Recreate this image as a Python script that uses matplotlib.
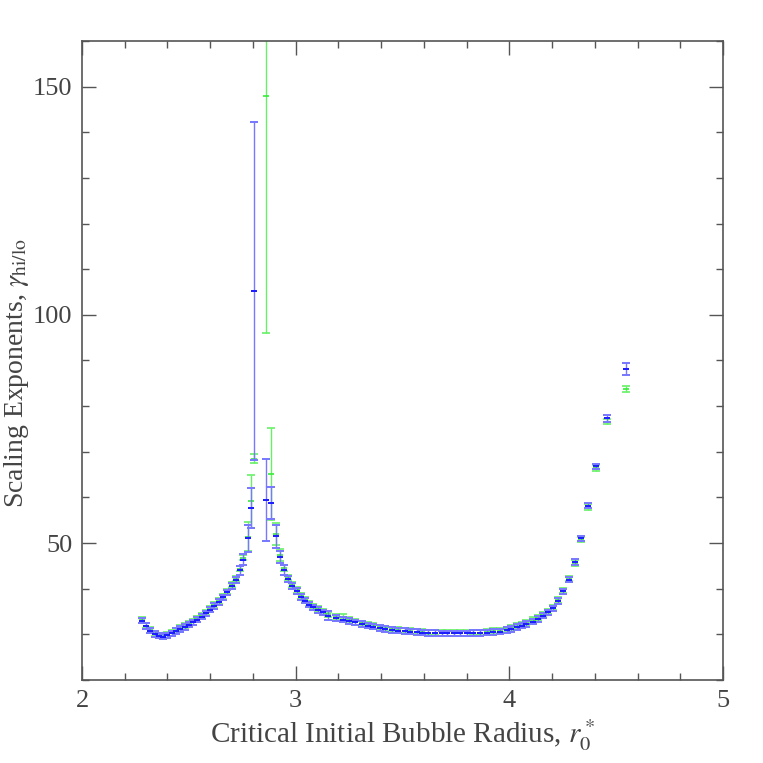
import matplotlib
matplotlib.use("Agg")
import matplotlib.pyplot as plt
from matplotlib.ticker import MultipleLocator
import numpy as np

# critical initial bubble radius (shared by both series)
r0 = [2.28, 2.30, 2.32, 2.34, 2.36, 2.38, 2.40, 2.42, 2.44, 2.46,
      2.48, 2.50, 2.52, 2.54, 2.56, 2.58, 2.60, 2.62, 2.64, 2.66,
      2.68, 2.70, 2.72, 2.74, 2.755, 2.778, 2.791, 2.805, 2.861, 2.886,
      2.906, 2.927, 2.945, 2.965, 2.984, 3.005, 3.023, 3.043, 3.064, 3.082,
      3.106, 3.126, 3.152, 3.19, 3.223, 3.25, 3.278, 3.309, 3.34, 3.363,
      3.395, 3.418, 3.449, 3.48, 3.511, 3.535, 3.566, 3.59, 3.62, 3.652,
      3.683, 3.707, 3.74, 3.77, 3.80, 3.83, 3.862, 3.894, 3.925, 3.956,
      3.987, 4.01, 4.034, 4.057, 4.08, 4.112, 4.135, 4.159, 4.182, 4.206,
      4.229, 4.252, 4.28, 4.307, 4.335, 4.369, 4.404, 4.455, 4.545]

# gamma_hi (blue)
gamma_hi = [33.0, 31.8, 30.8, 30.1, 29.7, 29.5, 29.8, 30.2, 30.7, 31.2,
            31.6, 32.1, 32.6, 33.2, 33.9, 34.6, 35.4, 36.2, 37.1, 38.1,
            39.2, 40.6, 41.9, 44.0, 46.3, 51.0, 57.6, 105.2, 59.4, 58.8,
            51.5, 47.0, 44.1, 42.1, 40.6, 39.5, 38.2, 37.4, 36.5, 35.9,
            35.3, 34.8, 34.1, 33.6, 33.2, 32.9, 32.6, 32.3, 31.9, 31.7,
            31.4, 31.2, 31.0, 30.8, 30.7, 30.6, 30.5, 30.4, 30.3, 30.3,
            30.2, 30.2, 30.2, 30.2, 30.2, 30.3, 30.3, 30.4, 30.5, 30.6,
            30.9, 31.2, 31.6, 31.9, 32.3, 32.8, 33.4, 34.1, 34.8, 35.7,
            37.3, 39.4, 42.0, 45.8, 51.0, 58.2, 66.8, 77.3, 88.2]
err_hi = [0.6] * len(r0)

# gamma_lo (green)
gamma_lo = [33.1, 31.9, 30.9, 30.2, 29.8, 29.6, 29.9, 30.3, 30.8, 31.4,
            31.8, 32.3, 32.7, 33.4, 34.1, 34.8, 35.5, 36.4, 37.3, 38.3,
            39.4, 40.9, 42.2, 44.4, 46.8, 51.4, 59.2, 68.5, 148.0, 65.1,
            52.0, 47.3, 44.5, 42.4, 40.9, 39.7, 38.4, 37.6, 36.7, 36.1,
            35.5, 35.0, 34.4, 33.8, 33.9, 33.1, 32.7, 32.4, 32.0, 31.8,
            31.5, 31.3, 31.1, 31.0, 30.8, 30.7, 30.6, 30.5, 30.4, 30.4,
            30.3, 30.3, 30.3, 30.3, 30.3, 30.4, 30.4, 30.5, 30.7, 30.8,
            31.1, 31.4, 31.8, 32.2, 32.6, 33.1, 33.7, 34.3, 35.0, 35.9,
            37.5, 39.6, 42.2, 45.6, 50.8, 57.9, 66.4, 76.6, 83.7]
err_lo = [0.6] * len(r0)

# the larger error bars around the peak and at the end
big_hi = {2.74: 1.0, 2.755: 1.2, 2.778: 3.0, 2.791: 4.4, 2.805: 37.0,
          2.861: 9.0, 2.886: 3.5, 2.906: 2.5, 2.927: 1.3, 2.945: 1.0,
          3.152: 1.0, 4.455: 0.8, 4.545: 1.3}
big_lo = {2.778: 3.2, 2.791: 5.8, 2.805: 1.0, 2.861: 52.0, 2.886: 10.0,
          2.906: 2.5, 2.927: 1.3}
for k, v in big_hi.items():
    err_hi[r0.index(k)] = v
for k, v in big_lo.items():
    err_lo[r0.index(k)] = v


def main():
    plt.rcParams['font.family'] = ['Liberation Serif', 'DejaVu Serif']
    plt.rcParams['mathtext.fontset'] = 'stix'

    grey = '#555555'
    fig = plt.figure(figsize=(7.63, 7.63), dpi=100)
    ax = fig.add_axes([0.1075, 0.1088, 0.8401, 0.8375])

    ax.errorbar(r0, gamma_lo, yerr=err_lo, fmt='_', color='#33ee33',
                ecolor='#66f066', elinewidth=1.0, capsize=3, capthick=1.0,
                markersize=5, mew=1.2, zorder=2)
    ax.errorbar(r0, gamma_hi, yerr=err_hi, fmt='_', color='#1a1aff',
                ecolor='#7777ff', elinewidth=1.0, capsize=3, capthick=1.0,
                markersize=5, mew=1.4, zorder=3)

    ax.set_xlim(2, 5)
    ax.set_ylim(20, 160)
    ax.xaxis.set_major_locator(MultipleLocator(1))
    ax.xaxis.set_minor_locator(MultipleLocator(0.2))
    ax.yaxis.set_major_locator(MultipleLocator(50))
    ax.yaxis.set_minor_locator(MultipleLocator(10))
    ax.tick_params(which='both', direction='in', top=True, right=True,
                   color=grey, width=1.0, labelcolor='#444444', labelsize=19)
    ax.tick_params(which='major', length=10, pad=7)
    ax.tick_params(which='minor', length=5)
    for s in ax.spines.values():
        s.set_color(grey)
        s.set_linewidth(1.2)

    ax.set_xlabel(r'Critical Initial Bubble Radius, $r_0^*$', fontsize=21,
                  color='#444444', labelpad=4)
    ax.set_ylabel(r'Scaling Exponents, $\gamma_{\rm hi/lo}$', fontsize=20,
                  color='#444444')
    ax.yaxis.set_label_coords(-0.08, 0.48)

    fig.savefig('out.png', dpi=100)


if __name__ == "__main__":
    main()
